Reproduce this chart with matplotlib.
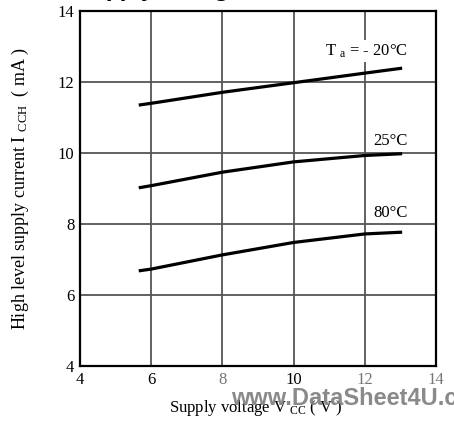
import matplotlib
matplotlib.use("Agg")
import matplotlib.pyplot as plt

plt.rcParams["font.family"] = ["Liberation Serif", "DejaVu Serif"]
plt.rcParams["mathtext.fontset"] = "custom"
plt.rcParams["mathtext.rm"] = "Liberation Serif"
plt.rcParams["mathtext.it"] = "Liberation Serif"

# supply voltage (V)
vcc = [5.65, 6, 8, 10, 12, 13.05]
# high level supply current (mA) per ambient temperature
icch_m20 = [11.35, 11.40, 11.71, 11.98, 12.25, 12.39]
icch_25 = [9.02, 9.08, 9.46, 9.75, 9.93, 9.98]
icch_80 = [6.68, 6.73, 7.13, 7.48, 7.72, 7.77]

x_ticks = [4, 6, 8, 10, 12, 14]
y_ticks = [4, 6, 8, 10, 12, 14]

fig = plt.figure(figsize=(4.54, 4.22), dpi=100)
ax = fig.add_axes([0.1762, 0.1327, 0.7841, 0.8412])

for curve in (icch_m20, icch_25, icch_80):
    ax.plot(vcc, curve, color="black", lw=2.3, solid_capstyle="butt", zorder=3)

ax.set_xlim(4, 14)
ax.set_ylim(4, 14)
ax.set_xticks(x_ticks)
ax.set_yticks(y_ticks)
ax.grid(True, color="#555555", lw=1.3)
ax.tick_params(length=0, labelsize=12, pad=4)
for sp in ax.spines.values():
    sp.set_linewidth(1.6)
for lbl in ax.get_xticklabels():
    if lbl.get_text() in ("8", "12", "14"):
        lbl.set_color("#777777")

box = dict(facecolor="white", edgecolor="none", pad=1.5)
ax.text(13.2, 12.87, r"T $_{\rm a}$ = - 20°C", ha="right", va="center",
        fontsize=12, bbox=box, zorder=2)
ax.text(13.2, 10.34, "25°C", ha="right", va="center", fontsize=12, zorder=2)
ax.text(13.2, 8.3, "80°C", ha="right", va="center", fontsize=12, zorder=2)

fig.text(0.046, 0.553, r"High level supply current I $_{\rm CCH}$  ( mA )",
         rotation=90, ha="center", va="center", fontsize=13)
fig.text(0.564, 0.024, r"Supply voltage V $_{\rm CC}$ ( V )", ha="center",
         fontsize=12, color="black")

# clipped title at the top edge
fig.text(0.172, 1.006, "Supply voltage", fontsize=14, fontweight="bold",
         family="DejaVu Sans", va="baseline")

# watermark
fig.text(0.508, 0.04, "www.DataSheet4U.com", fontsize=17, fontweight="bold",
         family="Liberation Sans", color="#808080", alpha=0.92)

fig.savefig("out.png", dpi=100)
